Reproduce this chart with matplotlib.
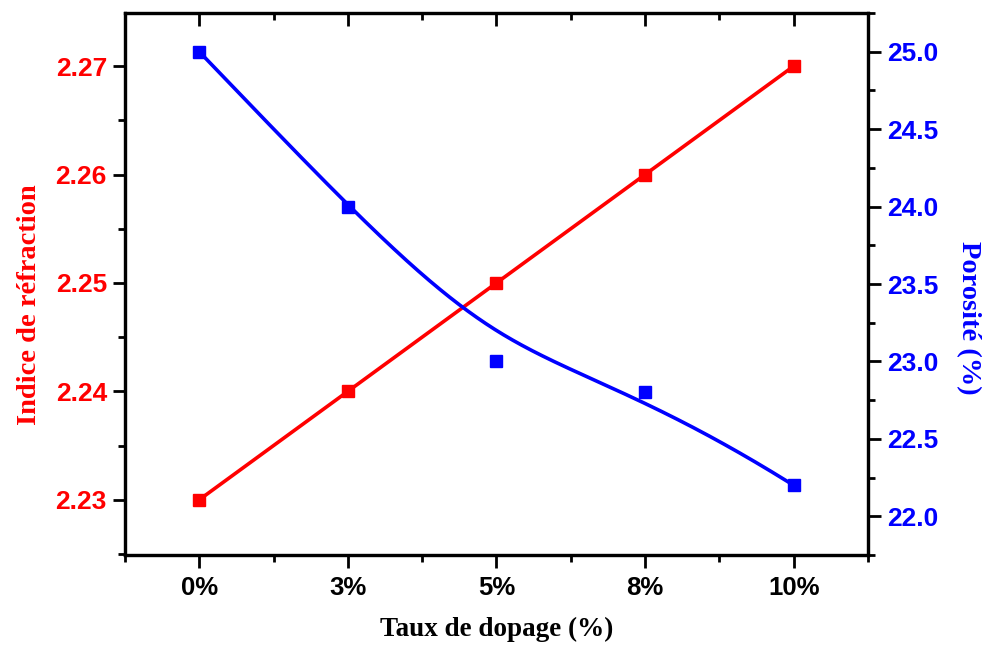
import numpy as np
import matplotlib
matplotlib.use("Agg")
import matplotlib.pyplot as plt
from matplotlib.ticker import MultipleLocator, FixedLocator, FormatStrFormatter

# Data
doping_labels = ["0%", "3%", "5%", "8%", "10%"]
refractive_index = [2.23, 2.24, 2.25, 2.26, 2.27]
porosity = [25.0, 24.0, 23.0, 22.8, 22.2]

RED = "#ff0000"
BLUE = "#0000ff"


def bspline_curve(cx, cy, degree=3, n=400):
    """Clamped uniform B-spline through control points (cx, cy)."""
    cx = np.asarray(cx, float)
    cy = np.asarray(cy, float)
    m = len(cx)
    k = min(degree, m - 1)
    knots = np.concatenate([np.zeros(k), np.linspace(0, 1, m - k + 1), np.ones(k)])
    t = np.linspace(0, 1, n)
    t[-1] = 1 - 1e-12
    B = np.zeros((n, len(knots) - 1))
    for i in range(len(knots) - 1):
        B[:, i] = (t >= knots[i]) & (t < knots[i + 1])
    for d in range(1, k + 1):
        Bn = np.zeros((n, len(knots) - 1 - d))
        for i in range(len(knots) - 1 - d):
            left = knots[i + d] - knots[i]
            right = knots[i + d + 1] - knots[i + 1]
            term = np.zeros(n)
            if left > 0:
                term += (t - knots[i]) / left * B[:, i]
            if right > 0:
                term += (knots[i + d + 1] - t) / right * B[:, i + 1]
            Bn[:, i] = term
        B = Bn
    return B @ cx, B @ cy


x = np.arange(len(doping_labels))

fig = plt.figure(figsize=(9.85, 6.48), dpi=100)
ax = fig.add_axes([0.1269, 0.1435, 0.7543, 0.8364])
ax2 = ax.twinx()

# Refractive index (left axis)
ax.plot(x, refractive_index, color=RED, lw=2.6, marker="s", ms=8,
        mec=RED, mfc=RED, zorder=3)

# Porosity (right axis): smoothed line plus points
bx, by = bspline_curve(x, porosity)
ax2.plot(bx, by, color=BLUE, lw=2.6, zorder=3)
ax2.plot(x, porosity, ls="none", marker="s", ms=8, mec=BLUE, mfc=BLUE, zorder=4)

ax.set_xlim(-0.5, 4.5)
ax.set_ylim(2.2249, 2.2749)
ax2.set_ylim(21.75, 25.25)

ax.set_xticks(x)
ax.set_xticklabels(doping_labels)
ax.xaxis.set_minor_locator(FixedLocator(np.arange(-0.5, 4.6, 1.0)))
ax.yaxis.set_major_locator(FixedLocator(refractive_index))
ax.yaxis.set_minor_locator(MultipleLocator(0.005))
ax.yaxis.set_major_formatter(FormatStrFormatter("%.2f"))
ax2.yaxis.set_major_locator(MultipleLocator(0.5))
ax2.yaxis.set_minor_locator(MultipleLocator(0.25))
ax2.yaxis.set_major_formatter(FormatStrFormatter("%.1f"))

for a in (ax, ax2):
    for s in a.spines.values():
        s.set_linewidth(2.3)

ax.tick_params(axis="x", which="major", direction="out", length=9, width=2,
               top=True, labelsize=18.5, pad=6)
ax.tick_params(axis="x", which="minor", direction="out", length=5, width=2, top=True)
# top ticks point inward
for tk in ax.xaxis.get_major_ticks() + ax.xaxis.get_minor_ticks():
    tk.tick2line.set_marker(matplotlib.lines.TICKDOWN)
ax.tick_params(axis="y", which="major", direction="out", length=9, width=2,
               right=False, labelsize=19, labelcolor=RED, pad=4)
ax.tick_params(axis="y", which="minor", direction="out", length=5, width=2, right=False)
ax2.tick_params(axis="y", which="major", direction="out", length=9, width=2,
                labelsize=19, labelcolor=BLUE, pad=5)
ax2.tick_params(axis="y", which="minor", direction="out", length=5, width=2)

tick_font = "Liberation Sans"
for lbl in ax.get_xticklabels() + ax.get_yticklabels() + ax2.get_yticklabels():
    lbl.set_fontfamily(tick_font)
    lbl.set_fontweight("bold")

label_kw = dict(fontfamily="Liberation Serif", fontweight="bold")
ax.set_xlabel("Taux de dopage (%)", labelpad=12, fontsize=19.5, **label_kw)
ax.set_ylabel("Indice de réfraction", color=RED, labelpad=10, fontsize=20.5, **label_kw)
ax2.set_ylabel("Porosité (%)", color=BLUE, rotation=-90, labelpad=30, fontsize=20.5,
               **label_kw)
ax.yaxis.label.set_y(0.462)
ax2.yaxis.label.set_y(0.437)

fig.savefig("out.png", dpi=100)
